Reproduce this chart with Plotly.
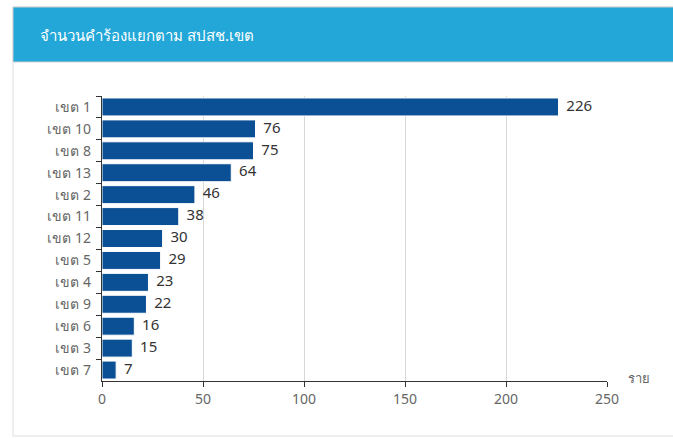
import plotly.graph_objects as go

categories = ["เขต 1", "เขต 10", "เขต 8", "เขต 13", "เขต 2", "เขต 11", "เขต 12",
              "เขต 5", "เขต 4", "เขต 9", "เขต 6", "เขต 3", "เขต 7"]
values = [226, 76, 75, 64, 46, 38, 30, 29, 23, 22, 16, 15, 7]
x_ticks = [0, 50, 100, 150, 200, 250]
title_text = "จำนวนคำร้องแยกตาม สปสช.เขต"
unit_text = "ราย"

W, H = 673, 438
L, R, T, B = 102, 66, 96, 57
pw, ph = W - L - R, H - T - B

def px(x):
    return (x - L) / pw

def py(y):
    return (H - B - y) / ph

FONT = "Noto Sans, Tahoma, DejaVu Sans, sans-serif"

fig = go.Figure()
fig.add_trace(go.Bar(
    x=values, y=categories, orientation="h",
    marker=dict(color="#0b4f94", line=dict(color="#ffffff", width=1)),
    width=0.82, hoverinfo="x+y",
))
fig.add_trace(go.Scatter(
    x=values, y=categories, mode="text",
    text=[f"  {v}" for v in values], textposition="middle right",
    textfont=dict(color="#333333", size=15, family=FONT),
    cliponaxis=False, hoverinfo="skip",
))

n = len(categories)
fig.update_layout(
    width=W, height=H,
    margin=dict(l=L, r=R, t=T, b=B, pad=0),
    paper_bgcolor="white", plot_bgcolor="white",
    showlegend=False,
    font=dict(family=FONT),
    xaxis=dict(range=[0, 250], tickvals=x_ticks, showgrid=True, gridcolor="#d8d8d8",
               gridwidth=1, showline=True, linecolor="#333333", linewidth=1,
               ticks="outside", ticklen=5, tickcolor="#333333",
               tickfont=dict(color="#666666", size=14), zeroline=False),
    yaxis=dict(range=[n - 0.5, -0.5], autorange=False, showline=True,
               linecolor="#333333", linewidth=1,
               ticks="outside", ticklen=5, tickcolor="#333333", tickson="boundaries",
               tickfont=dict(color="#666666", size=14), ticksuffix="  ", showgrid=False),
    shapes=[
        dict(type="rect", xref="paper", yref="paper", x0=px(13), x1=px(690),
             y0=py(436), y1=py(7), line=dict(color="#dddddd", width=1),
             fillcolor="rgba(0,0,0,0)", layer="below"),
        dict(type="rect", xref="paper", yref="paper", x0=px(13), x1=px(690),
             y0=py(62), y1=py(7), line=dict(color="#d0d0d0", width=1),
             fillcolor="#22a7d8", layer="below"),
    ],
    annotations=[
        dict(text=title_text, xref="paper", yref="paper", x=px(38), y=py(35),
             xanchor="left", yanchor="middle", showarrow=False,
             font=dict(color="white", size=15, family=FONT)),
        dict(text=unit_text, xref="paper", yref="paper", x=px(626), y=py(378),
             xanchor="left", yanchor="middle", showarrow=False,
             font=dict(color="#666666", size=13, family=FONT)),
    ],
)

fig.write_html("out.html")
